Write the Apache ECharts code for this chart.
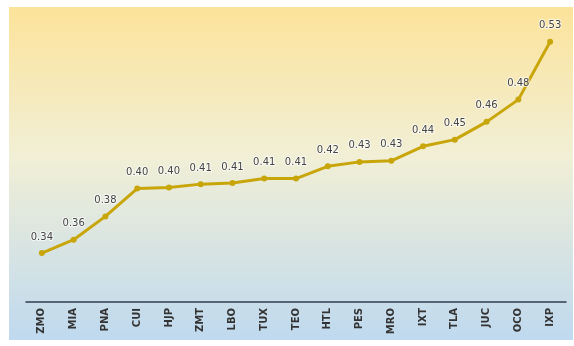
<!DOCTYPE html>
<html><head><meta charset="utf-8">
<script src="https://cdn.jsdelivr.net/npm/echarts@6/dist/echarts.min.js"></script>
<style>html,body{margin:0;padding:0;background:#fff}#c{width:574px;height:346px}</style>
</head><body><div id="c"></div>
<script>
var categories = ['ZMO','MIA','PNA','CUI','HJP','ZMT','LBO','TUX','TEO','HTL','PES','MRO','IXT','TLA','JUC','OCO','IXP'];
var values = [0.344,0.356,0.377,0.402,0.403,0.406,0.407,0.411,0.411,0.422,0.426,0.427,0.440,0.446,0.462,0.482,0.534];

var chart = echarts.init(document.getElementById('c'));
chart.setOption({
  animation: false,
  graphic: [{
    type: 'rect', left: 9, top: 7, z: -10,
    shape: {width: 564, height: 333},
    style: {fill: new echarts.graphic.LinearGradient(0,0,0,1,[
      {offset:0, color:'#fce39a'},
      {offset:0.45, color:'#f1efd6'},
      {offset:1, color:'#bfd9ef'}
    ])}
  }],
  grid: {left: 26, right: 8, top: 24, bottom: 44},
  xAxis: {
    type: 'category', data: categories, boundaryGap: true,
    axisLine: {lineStyle: {color: '#2c3e50', width: 1.5}},
    axisTick: {show: false},
    axisLabel: {rotate: 90, color: '#333', fontSize: 10, fontWeight: 'bold', fontFamily: 'DejaVu Sans', margin: 6}
  },
  yAxis: {type: 'value', min: 0.30, max: 0.55, show: false, splitLine: {show: false}},
  series: [{
    type: 'line', data: values,
    lineStyle: {color: '#c8a60a', width: 3},
    itemStyle: {color: '#c8a60a'},
    symbol: 'circle', symbolSize: 6,
    label: {show: true, position: 'top', distance: 8, color: '#444', fontSize: 10, fontFamily: 'DejaVu Sans',
      textBorderColor: 'rgba(255,255,255,0.7)', textBorderWidth: 2,
      formatter: function(p){ return p.value.toFixed(2); }}
  }]
});
</script></body></html>
